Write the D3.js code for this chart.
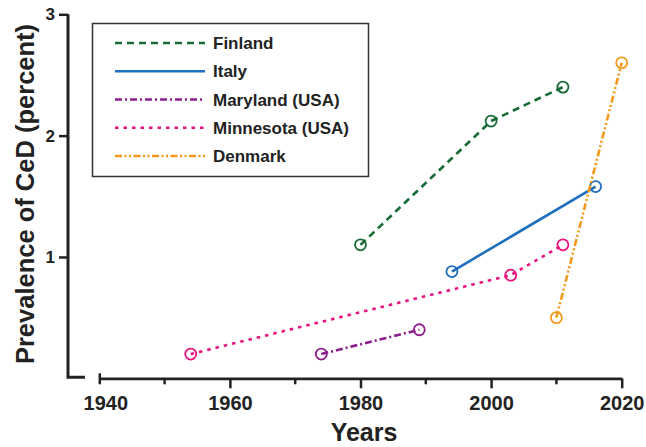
<!DOCTYPE html>
<html>
<head>
<meta charset="utf-8">
<script src="https://cdn.jsdelivr.net/npm/d3@7"></script>
<style>
  body { margin: 0; background: #fff; }
  svg text { font-family: "Liberation Sans", Arial, sans-serif; font-weight: bold; fill: #222; }
</style>
</head>
<body>
<figure id="chart" style="margin:0"></figure>
<script>
// series data (year, prevalence in percent)
const seriesNames = ['Finland', 'Italy', 'Maryland (USA)', 'Minnesota (USA)', 'Denmark'];
const finlandYears = [1980, 2000, 2011];
const finlandValues = [1.10, 2.12, 2.40];
const italyYears = [1994, 2016];
const italyValues = [0.88, 1.58];
const marylandYears = [1974, 1989];
const marylandValues = [0.20, 0.40];
const minnesotaYears = [1954, 2003, 2011];
const minnesotaValues = [0.20, 0.85, 1.10];
const denmarkYears = [2010, 2020];
const denmarkValues = [0.50, 2.60];

const xTicks = [1940, 1960, 1980, 2000, 2020];
const xMinorTicks = [1950, 1970, 1990, 2010];
const yTicks = [1, 2, 3];

const width = 646;
const height = 447;

const series = [
  { name: seriesNames[0], years: finlandYears, values: finlandValues, color: '#176b35', dash: '7,5' },
  { name: seriesNames[1], years: italyYears, values: italyValues, color: '#1f6fbf', dash: null },
  { name: seriesNames[2], years: marylandYears, values: marylandValues, color: '#8c1f8c', dash: '7,3,2,3' },
  { name: seriesNames[3], years: minnesotaYears, values: minnesotaValues, color: '#e8137e', dash: '3.5,5' },
  { name: seriesNames[4], years: denmarkYears, values: denmarkValues, color: '#f39a1c', dash: '7,2.5,2,2.5,2,2.5' },
];

const svg = d3.select('figure#chart')
  .append('svg')
  .attr('width', width)
  .attr('height', height);

// scales
const x = d3.scaleLinear().domain([1940, 2020]).range([99.3, 621.7]);
const y = d3.scaleLinear().domain([0, 3]).range([378.3, 14.3]);
const axisX = 68;

// Y axis
const yAxis = svg.append('g')
  .attr('transform', 'translate(' + axisX + ',0)')
  .call(d3.axisLeft(y).tickValues(yTicks).tickSize(9).tickPadding(4).tickFormat(d3.format('d')));
yAxis.select('.domain').remove();
yAxis.selectAll('.tick line').attr('stroke', '#222').attr('stroke-width', 2.5);
yAxis.selectAll('.tick text').style('font-size', '17px');
svg.append('path')
  .attr('d', 'M' + (axisX + 17) + ',' + (y(0) - 1) + 'H' + axisX + 'V' + y(3))
  .attr('fill', 'none')
  .attr('stroke', '#222')
  .attr('stroke-width', 3);

// X axis (offset from the y axis)
const xAxis = svg.append('g')
  .attr('transform', 'translate(0,' + y(0) + ')')
  .call(d3.axisBottom(x).tickValues(xTicks).tickSize(10).tickSizeOuter(0).tickPadding(8).tickFormat(d3.format('d')));
xAxis.select('.domain').attr('stroke', '#222').attr('stroke-width', 2.8);
xAxis.selectAll('.tick line').attr('stroke', '#222').attr('stroke-width', 2.5);
xAxis.selectAll('.tick text').style('font-size', '20px');
xAxis.selectAll('.tick').filter((d) => d === 1940).select('line').attr('y1', -5).attr('y2', 6);
xAxis.selectAll('.tick').filter((d) => d === 1940).select('text').attr('dx', 6);
xAxis.selectAll('.minor')
  .data(xMinorTicks)
  .enter()
  .append('line')
  .attr('x1', (d) => x(d))
  .attr('x2', (d) => x(d))
  .attr('y1', 0)
  .attr('y2', 6)
  .attr('stroke', '#222')
  .attr('stroke-width', 2.5);

// axis titles
svg.append('text')
  .attr('transform', 'translate(34,194)rotate(-90)')
  .attr('text-anchor', 'middle')
  .style('font-size', '25.5px')
  .text('Prevalence of CeD (percent)');
svg.append('text')
  .attr('x', 364)
  .attr('y', 441)
  .attr('text-anchor', 'middle')
  .style('font-size', '25px')
  .text('Years');

// lines and markers
const line = d3.line().x((d) => x(d[0])).y((d) => y(d[1]));
series.forEach((s) => {
  const pts = s.years.map((yr, i) => [yr, s.values[i]]);
  svg.append('path')
    .datum(pts)
    .attr('d', line)
    .attr('fill', 'none')
    .attr('stroke', s.color)
    .attr('stroke-width', 2.6)
    .attr('stroke-dasharray', s.dash);
  svg.selectAll(null)
    .data(pts)
    .enter()
    .append('circle')
    .attr('cx', (d) => x(d[0]))
    .attr('cy', (d) => y(d[1]))
    .attr('r', 5.5)
    .attr('fill', 'none')
    .attr('stroke', s.color)
    .attr('stroke-width', 1.8);
});

// legend
const legend = svg.append('g');
legend.append('rect')
  .attr('x', 92.5)
  .attr('y', 23.5)
  .attr('width', 276)
  .attr('height', 153)
  .attr('fill', '#fff')
  .attr('stroke', '#333')
  .attr('stroke-width', 1.5);
const rowY = d3.scalePoint().domain(seriesNames).range([43, 156]);
series.forEach((s) => {
  legend.append('line')
    .attr('x1', 115)
    .attr('x2', 205)
    .attr('y1', rowY(s.name))
    .attr('y2', rowY(s.name))
    .attr('stroke', s.color)
    .attr('stroke-width', 2.6)
    .attr('stroke-dasharray', s.dash);
  legend.append('text')
    .attr('x', 213)
    .attr('y', rowY(s.name) + 6)
    .style('font-size', '17px')
    .text(s.name);
});
</script>
</body>
</html>
